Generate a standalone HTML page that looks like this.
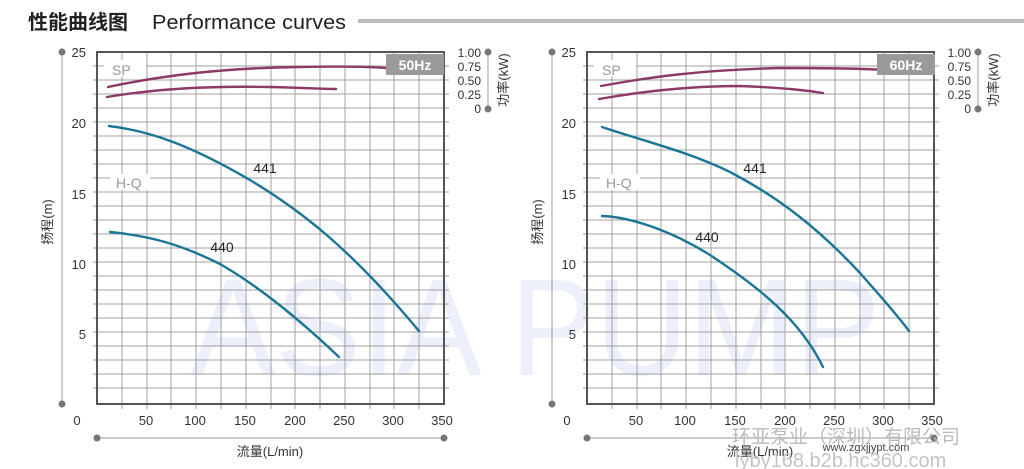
<!DOCTYPE html>
<html><head><meta charset="utf-8"><style>
html,body{margin:0;padding:0;background:#fff;}
svg{display:block;}
text{font-family:"Liberation Sans","Noto Sans CJK SC",sans-serif;}
</style></head><body>
<svg width="1024" height="469" viewBox="0 0 1024 469" xmlns="http://www.w3.org/2000/svg">
<defs>
<g id="grid">
  <g stroke="#a0a0a0" stroke-width="1">
    <line x1="93" y1="66" x2="449" y2="66"/><line x1="93" y1="80" x2="449" y2="80"/><line x1="93" y1="94" x2="449" y2="94"/><line x1="93" y1="108" x2="449" y2="108"/><line x1="93" y1="122" x2="449" y2="122"/><line x1="93" y1="136" x2="449" y2="136"/><line x1="93" y1="150" x2="449" y2="150"/><line x1="93" y1="164" x2="449" y2="164"/><line x1="93" y1="178" x2="449" y2="178"/><line x1="93" y1="192" x2="449" y2="192"/><line x1="93" y1="206" x2="449" y2="206"/><line x1="93" y1="220" x2="449" y2="220"/><line x1="93" y1="234" x2="449" y2="234"/><line x1="93" y1="248" x2="449" y2="248"/><line x1="93" y1="262" x2="449" y2="262"/><line x1="93" y1="276" x2="449" y2="276"/><line x1="93" y1="290" x2="449" y2="290"/><line x1="93" y1="304" x2="449" y2="304"/><line x1="93" y1="318" x2="449" y2="318"/><line x1="93" y1="332" x2="449" y2="332"/><line x1="93" y1="346" x2="449" y2="346"/><line x1="93" y1="360" x2="449" y2="360"/><line x1="93" y1="374" x2="449" y2="374"/><line x1="93" y1="388" x2="449" y2="388"/>
    <line x1="122" y1="52" x2="122" y2="409"/><line x1="147" y1="52" x2="147" y2="409"/><line x1="171" y1="52" x2="171" y2="409"/><line x1="196" y1="52" x2="196" y2="409"/><line x1="221" y1="52" x2="221" y2="409"/><line x1="246" y1="52" x2="246" y2="409"/><line x1="271" y1="52" x2="271" y2="409"/><line x1="295" y1="52" x2="295" y2="409"/><line x1="320" y1="52" x2="320" y2="409"/><line x1="345" y1="52" x2="345" y2="409"/><line x1="370" y1="52" x2="370" y2="409"/><line x1="394" y1="52" x2="394" y2="409"/><line x1="419" y1="52" x2="419" y2="409"/>
  </g>
  <rect x="97" y="52" width="347" height="352" fill="none" stroke="#555" stroke-width="2"/>
  <g stroke="#aaa" stroke-width="1.2">
    <line x1="62" y1="52" x2="62" y2="404"/><line x1="488" y1="52" x2="488" y2="109"/><line x1="97" y1="438" x2="444" y2="438"/>
  </g>
  <g fill="#777"><circle cx="62" cy="52" r="3.5"/><circle cx="62" cy="404" r="3.5"/><circle cx="488" cy="52" r="3.5"/><circle cx="488" cy="109" r="3.5"/><circle cx="97" cy="438" r="3.5"/><circle cx="444" cy="438" r="3.5"/></g>
  <g font-size="13" fill="#333" text-anchor="end">
    <text x="86" y="57">25</text><text x="86" y="128">20</text><text x="86" y="199">15</text><text x="86" y="269">10</text><text x="86" y="339">5</text>
  </g>
  <g font-size="13" fill="#333" text-anchor="middle">
    <text x="77" y="425">0</text><text x="146" y="425">50</text><text x="195" y="425">100</text><text x="245" y="425">150</text><text x="295" y="425">200</text><text x="344" y="425">250</text><text x="393" y="425">300</text><text x="442" y="425">350</text>
  </g>
  <g font-size="12" fill="#333" text-anchor="end">
    <text x="481" y="57">1.00</text><text x="481" y="71">0.75</text><text x="481" y="85">0.50</text><text x="481" y="99">0.25</text><text x="481" y="113">0</text>
  </g>
  <text x="270" y="456" font-size="13" fill="#333" text-anchor="middle">流量(L/min)</text>
  <text transform="translate(52,222) rotate(-90)" font-size="13" fill="#333" text-anchor="middle">扬程(m)</text>
  <text transform="translate(508,80) rotate(-90)" font-size="13" fill="#333" text-anchor="middle">功率(kW)</text>
  <rect x="104" y="60" width="42" height="16" fill="#fff"/>
  <rect x="110" y="174" width="40" height="16" fill="#fff"/>
</g>
</defs>
<text x="28" y="29" font-size="20" font-weight="bold" fill="#222" font-family="Noto Sans CJK SC,sans-serif">性能曲线图</text>
<text x="152" y="29" font-size="20" fill="#222" textLength="194" lengthAdjust="spacingAndGlyphs">Performance curves</text>
<rect x="358" y="19" width="666" height="4" fill="#bdbdbd"/>
<text x="190" y="375" font-size="138" fill="#edf0fa" textLength="690" lengthAdjust="spacingAndGlyphs">ASIA PUMP</text>
<use href="#grid"/>
<use href="#grid" transform="translate(490,0)"/>
<g font-size="14" fill="#999"><text x="112" y="75">SP</text><text x="116" y="188">H-Q</text><text x="602" y="75">SP</text><text x="606" y="188">H-Q</text></g>
<g fill="none" stroke-width="2.4" stroke-linecap="round">
  <path d="M109,126 C150,131 190,145 250,180 C300,210 350,248 419,331" stroke="#1a7596"/>
  <path d="M110,232 C150,236 180,244 220,264 C260,287 300,320 339,357" stroke="#1a7596"/>
  <path d="M108,87 C160,76 220,68 300,67 C350,66 380,67 395,69" stroke="#8c3a68"/>
  <path d="M107,97 C160,88 220,86 270,87 C310,88 325,89 336,89" stroke="#8c3a68"/>
  <path d="M602,127 C640,140 690,152 730,172 C780,198 820,230 860,273 C880,296 895,312 909,331" stroke="#1a7596"/>
  <path d="M602,216 C630,217 670,230 710,255 C760,288 800,320 823,367" stroke="#1a7596"/>
  <path d="M601,86 C650,77 700,70 780,68 C840,68 870,69 885,70" stroke="#8c3a68"/>
  <path d="M599,99 C650,90 700,86 740,86 C790,88 810,91 823,93" stroke="#8c3a68"/>
</g>
<g font-size="14" fill="#222" text-anchor="middle"><text x="265" y="173">441</text><text x="222" y="252">440</text><text x="755" y="173">441</text><text x="707" y="242">440</text></g>
<rect x="386" y="54" width="58" height="21" fill="#9a9a9a"/><text x="415" y="70" font-size="14" font-weight="bold" fill="#fff" text-anchor="middle">50Hz</text>
<rect x="877" y="54" width="58" height="21" fill="#9a9a9a"/><text x="906" y="70" font-size="14" font-weight="bold" fill="#fff" text-anchor="middle">60Hz</text>
<text x="732" y="443" font-size="19" fill="#bbb" font-family="Noto Sans CJK SC,sans-serif">环亚泵业（深圳）有限公司</text>
<text x="866" y="451" font-size="11" fill="#444" font-family="Liberation Mono,monospace" text-anchor="middle">www.zgxjjypt.com</text>
<text x="735" y="467" font-size="20" fill="#c4c4c4">lyby168.b2b.hc360.com</text>
</svg>
</body></html>
